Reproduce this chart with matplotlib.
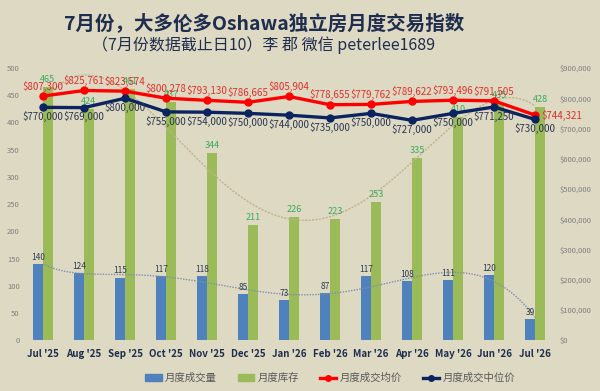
import numpy as np
import matplotlib
matplotlib.use("Agg")
import matplotlib.pyplot as plt
from matplotlib.patches import Patch
from matplotlib.lines import Line2D

plt.rcParams['font.family'] = ['Noto Sans CJK SC', 'DejaVu Sans']

months = ["Jul '25", "Aug '25", "Sep '25", "Oct '25", "Nov '25", "Dec '25", "Jan '26",
          "Feb '26", "Mar '26", "Apr '26", "May '26", "Jun '26", "Jul '26"]
sales = [140, 124, 115, 117, 118, 85, 73, 87, 117, 108, 111, 120, 39]
inventory = [465, 424, 461, 437, 344, 211, 226, 223, 253, 335, 410, 435, 428]
avg_price = [807300, 825761, 823574, 800278, 793130, 786665, 805904, 778655, 779762,
             789622, 793496, 791505, 744321]
median_price = [770000, 769000, 800000, 755000, 754000, 750000, 744000, 735000, 750000,
                727000, 750000, 771250, 730000]

title = "7月份，大多伦多Oshawa独立房月度交易指数"
subtitle = "（7月份数据截止日10）李 郡 微信 peterlee1689"
legend_labels = ["月度成交量", "月度库存", "月度成交均价", "月度成交中位价"]

BG = "#DDD9C3"
BLUE = "#4F81BD"
GREEN = "#9BBB59"
RED = "#FF0000"
NAVY = "#0B2460"

fig = plt.figure(figsize=(6, 3.91), dpi=100, facecolor=BG)
ax = fig.add_axes([0.0375, 0.130, 0.8885, 0.696])
ax.set_facecolor(BG)
ax2 = ax.twinx()

x = np.arange(len(months))
w = 0.24
ax.bar(x - w / 2, sales, width=w, color=BLUE, zorder=2)
ax.bar(x + w / 2, inventory, width=w, color=GREEN, zorder=2)

# polynomial trendlines
xs = np.linspace(0, len(months) - 1, 300)
pi = np.polyfit(x, inventory, 4)
ax.plot(xs, np.polyval(pi, xs), color="#BDB48A", lw=1.0, ls=(0, (1.5, 1)), zorder=3)
ps = np.polyfit(x, sales, 6)
ax.plot(xs, np.polyval(ps, xs), color="#7F8FA8", lw=1.0, ls=(0, (1, 1)), zorder=3)

for xi, v in zip(x, sales):
    ax.text(xi - w / 2, v + 4, str(v), ha='center', va='bottom', fontsize=6, color="#2F3B52", zorder=6)
for xi, v in zip(x, inventory):
    ax.text(xi + w / 2, v + 6, str(v), ha='center', va='bottom', fontsize=6.5, color="#3DAA5C", zorder=6)

ax.set_ylim(0, 500)
ax.set_yticks(np.arange(0, 501, 50))
ax.set_xlim(-0.5, len(months) - 0.5)
ax.set_xticks(x)
ax.set_xticklabels(months, fontsize=7, fontweight='bold', color="#1F2D4E")

ax2.plot(x, avg_price, color=RED, lw=2.4, marker='o', ms=5, zorder=5)
ax2.plot(x, median_price, color=NAVY, lw=2.4, marker='o', ms=5, zorder=5)
ax2.set_ylim(0, 900000)
ax2.set_yticks(np.arange(0, 900001, 100000))
ax2.set_yticklabels(["$0"] + [f"${v:,}" for v in range(100000, 900001, 100000)])

for i, v in enumerate(avg_price):
    if i == len(avg_price) - 1:
        ax2.text(i + 0.15, v, f"${v:,}", ha='left', va='center', fontsize=7, color="#E0302C", zorder=7)
    else:
        ax2.text(i, v + 14000, f"${v:,}", ha='center', va='bottom', fontsize=7, color="#E0302C", zorder=7)
for i, v in enumerate(median_price):
    ax2.text(i, v - 12000, f"${v:,}", ha='center', va='top', fontsize=7, color="#2B3550", zorder=7)

for a in (ax, ax2):
    for s in a.spines.values():
        s.set_visible(False)
    a.tick_params(length=0)
ax.tick_params(axis='y', labelsize=5.5, labelcolor="#7F7F7F", pad=2)
ax.tick_params(axis='x', pad=6)
ax2.tick_params(axis='y', labelsize=5.5, labelcolor="#7F7F7F", pad=3)

fig.text(0.44, 0.941, title, ha='center', va='center', fontsize=14, fontweight='bold', color="#1F2D4E")
fig.text(0.44, 0.885, subtitle, ha='center', va='center', fontsize=11.5, fontweight='medium', color="#1F2D4E")

handles = [Patch(color=BLUE), Patch(color=GREEN),
           Line2D([], [], color=RED, lw=2.4, marker='o', ms=4),
           Line2D([], [], color=NAVY, lw=2.4, marker='o', ms=4)]
fig.legend(handles, legend_labels, loc='center', bbox_to_anchor=(0.55, 0.033), ncol=4,
           frameon=False, fontsize=7.5, labelcolor="#595959", handlelength=1.6,
           handleheight=0.6, columnspacing=2.0, handletextpad=0.3)

fig.savefig("out.png", dpi=100, facecolor=BG)
